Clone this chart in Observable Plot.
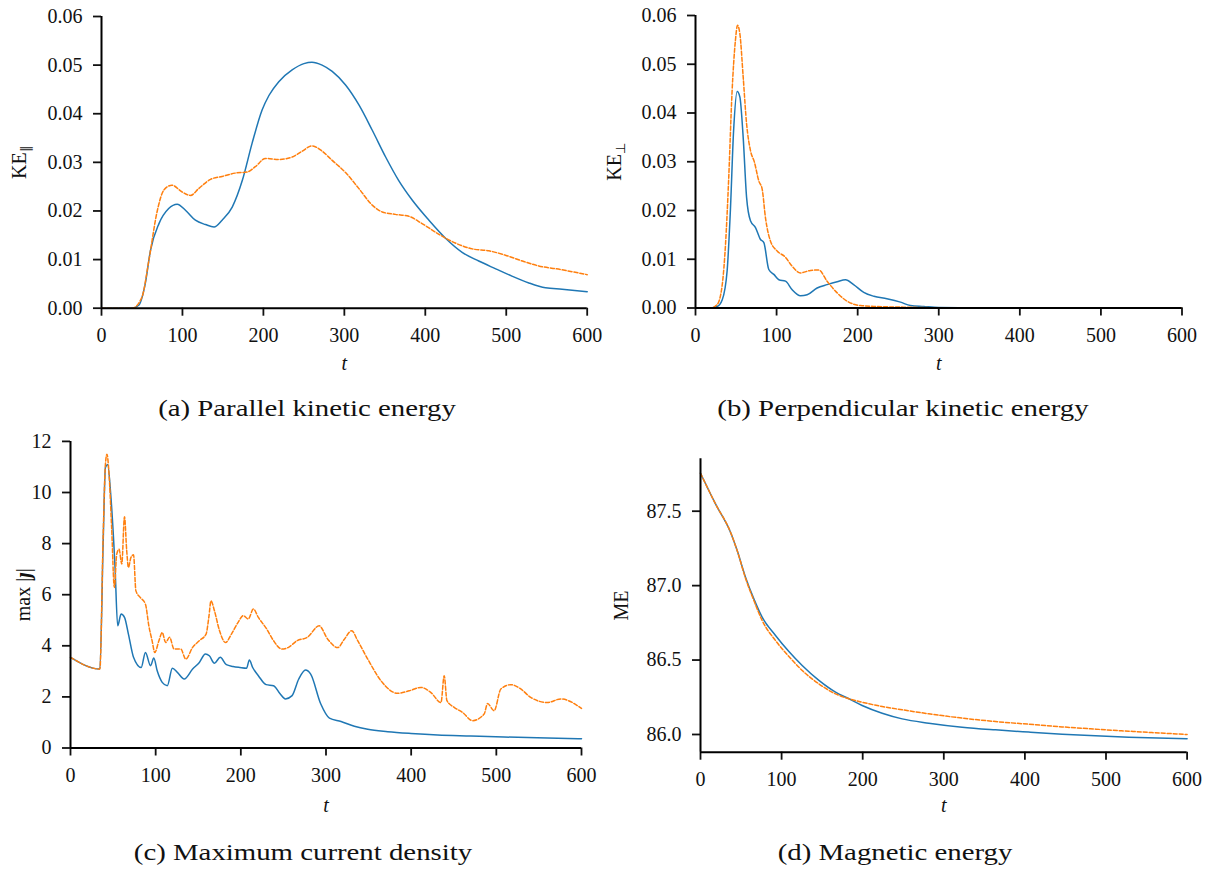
<!DOCTYPE html>
<html>
<head>
<meta charset="utf-8">
<script src="https://cdn.jsdelivr.net/npm/d3@7"></script>
<script src="https://cdn.jsdelivr.net/npm/@observablehq/plot@0.6"></script>
<style>
  html, body { margin: 0; padding: 0; background: white; }
  #page { position: relative; width: 1225px; height: 871px; overflow: hidden; }
  .panel { position: absolute; }
  .panel svg, .panel svg text { font-family: "Liberation Serif", serif !important; }
  .cap { position: absolute; font-family: "Liberation Serif", serif; font-size: 24px; color: #111;
         white-space: nowrap; transform: translate(-50%, -50%) scaleX(1.2); }
</style>
</head>
<body>
<div id="page">
  <div class="panel" id="pa" style="left:0px; top:0px;"></div>
  <div class="panel" id="pb" style="left:600px; top:0px;"></div>
  <div class="panel" id="pc" style="left:0px; top:430px;"></div>
  <div class="panel" id="pd" style="left:600px; top:430px;"></div>
  <div class="cap" style="left:307px; top:408px;">(a) Parallel kinetic energy</div>
  <div class="cap" style="left:903px; top:408px;">(b) Perpendicular kinetic energy</div>
  <div class="cap" style="left:303px; top:852px;">(c) Maximum current density</div>
  <div class="cap" style="left:895px; top:852px;">(d) Magnetic energy</div>
</div>
<script>
// ---------- data: [t, value] ----------
const xTicks = [0, 100, 200, 300, 400, 500, 600];
const keTicks = [0, 0.01, 0.02, 0.03, 0.04, 0.05, 0.06];
const jTicks = [0, 2, 4, 6, 8, 10, 12];
const meTicks = [86.0, 86.5, 87.0, 87.5];

const keParBlue = [[0,0],[38,0],[46,0.0006],[54,0.005],[60.5,0.0119],[71,0.0174],[83,0.0205],[93.5,0.0214],[104,0.0201],[116,0.0181],[128.5,0.0172],[139,0.0167],[149,0.0181],[161.5,0.0208],[174,0.0263],[186,0.0339],[198.5,0.0408],[207,0.0438],[219,0.0466],[235.5,0.049],[250,0.0503],[260,0.0506],[272.5,0.05],[285,0.0487],[301.5,0.0459],[318,0.0418],[334.5,0.0366],[351,0.0311],[367,0.0263],[384,0.0222],[404.5,0.0181],[425,0.0144],[445.5,0.0115],[466,0.0097],[487,0.0081],[507,0.0066],[528,0.0052],[548.5,0.0042],[569,0.0039],[600,0.0034]];
const keParOrange = [[0,0],[38,0],[50,0.0023],[58.5,0.0098],[69,0.0201],[77,0.0243],[87,0.0253],[99.7,0.0239],[110,0.0232],[120,0.0246],[134.7,0.0265],[149,0.0271],[165.6,0.0278],[180,0.028],[190,0.0291],[202.6,0.0308],[219,0.0306],[235.6,0.0311],[248,0.0323],[260,0.0334],[272.6,0.0323],[285,0.0304],[301.5,0.0279],[318,0.0246],[334.5,0.0212],[346.8,0.0198],[363,0.0193],[379.7,0.0189],[396,0.0174],[416.8,0.0152],[437,0.0134],[458,0.0122],[478.6,0.0118],[499,0.0109],[520,0.0097],[540,0.0087],[569,0.0079],[600,0.0069]];

const kePerpBlue = [[0,0],[18.5,0],[26.7,0.0003],[33,0.0017],[39,0.0076],[43,0.0199],[47,0.0364],[51.4,0.0444],[54.7,0.0433],[58.8,0.035],[63,0.0227],[67.8,0.0179],[74,0.0165],[80,0.0141],[84.3,0.0134],[90.4,0.0079],[96.6,0.0069],[102.8,0.0058],[111,0.0055],[119,0.0038],[129.5,0.0025],[137.7,0.0027],[150,0.0041],[162.3,0.0048],[174.7,0.0054],[185,0.0058],[195,0.0048],[207.5,0.0032],[220,0.0024],[236,0.0019],[252.8,0.0012],[265,0.0005],[281.5,0.0003],[300,0.0001],[350,0],[600,0]];
const kePerpOrange = [[0,0],[18.5,0],[26.7,0.0007],[33,0.0048],[37,0.013],[41,0.0268],[45,0.044],[49.3,0.055],[51.8,0.058],[54.7,0.0563],[58.8,0.0474],[63,0.0378],[67.8,0.0323],[72.7,0.0299],[78,0.0261],[82.2,0.0244],[86.3,0.0185],[92.5,0.0137],[100.7,0.0117],[111,0.0104],[119,0.0086],[129.5,0.0072],[141.8,0.0077],[152,0.0078],[162.3,0.0055],[174.7,0.0031],[187,0.0014],[203.5,0.0005],[224,0.0003],[248.7,0.0002],[281,0.0001],[320,0],[600,0]];

const jBlue = [[0,3.55],[34.5,3.09],[38.4,8.1],[41,10.98],[43.6,11.1],[47.5,9.8],[52.3,7.07],[55.4,4.78],[59.4,5.24],[63.4,5.11],[68,4.46],[74,3.55],[83,3.15],[88,3.74],[94,3.22],[97.8,3.52],[101.8,3.02],[107.7,2.57],[113.7,2.44],[119.6,3.12],[125.5,2.96],[133.5,2.7],[143.4,3.09],[151.3,3.35],[158.4,3.68],[163,3.61],[169,3.32],[175.8,3.55],[183,3.26],[190.9,3.19],[198.8,3.15],[206.7,3.12],[210,3.44],[213.9,3.15],[220.6,2.83],[229.7,2.48],[238.4,2.44],[246.3,2.11],[252.3,1.92],[260.2,2.05],[268,2.7],[276,3.05],[282,2.89],[293.9,1.72],[304,1.17],[317.7,1.04],[333.3,0.85],[349,0.73],[372.4,0.64],[399.8,0.57],[431,0.51],[470,0.47],[509,0.43],[548,0.4],[600,0.36]];
const jOrange = [[0,3.55],[34.5,3.09],[38.4,8.37],[41,11.1],[42.8,11.5],[45,10.85],[48.3,8.63],[51.5,6.28],[54.3,7.59],[57,7.78],[60.2,7.2],[63.4,9.05],[66,7.72],[68,7.07],[71,7.46],[74,7.56],[76.8,6.15],[82,5.89],[88,5.63],[92,4.78],[95.8,4.2],[99,3.74],[103.8,4.2],[107.7,4.52],[111.7,4.13],[116.4,4.33],[121.6,3.87],[129.5,3.87],[135.4,3.48],[143.4,3.94],[151.3,4.2],[159.2,4.46],[162.4,5.11],[165,5.76],[169,5.37],[175,4.59],[182,4.13],[189,4.46],[196.8,4.92],[202.8,5.18],[208.7,5.05],[214.7,5.44],[220.6,5.11],[230.5,4.65],[238.4,4.2],[248.3,3.87],[256,3.94],[266,4.2],[278,4.33],[292,4.78],[302,4.26],[313.8,3.93],[321.6,4.26],[330.2,4.59],[337.2,4.2],[349,3.48],[364.6,2.63],[384,2.14],[397.8,2.24],[411.5,2.37],[423.2,2.17],[435,1.78],[438.8,2.83],[442,1.85],[450.5,1.59],[460.4,1.39],[472,1.07],[485.7,1.33],[489.7,1.74],[497.4,1.46],[505.3,2.31],[517,2.48],[528.7,2.31],[540.4,1.98],[560,1.78],[575.6,1.92],[600,1.55]];

const meBlue = [[0,87.755],[18.5,87.549],[37,87.359],[45.2,87.236],[55.5,87.057],[65.8,86.911],[76,86.788],[92.5,86.665],[109,86.557],[125.4,86.463],[146,86.363],[166.5,86.284],[183,86.24],[199.3,86.195],[224,86.143],[248.7,86.105],[281.5,86.076],[322.6,86.049],[363.7,86.031],[404.8,86.016],[446,86.002],[487,85.991],[528,85.982],[600,85.971]];
const meOrange = [[0,87.755],[18.5,87.549],[37,87.359],[45.2,87.236],[55.5,87.05],[65.8,86.9],[76,86.766],[92.5,86.631],[109,86.524],[125.4,86.43],[146,86.34],[166.5,86.273],[183,86.24],[199.3,86.217],[224,86.188],[248.7,86.166],[281.5,86.139],[322.6,86.11],[363.7,86.087],[404.8,86.069],[446,86.051],[487,86.036],[528,86.022],[600,86.0]];

// ---------- drawing ----------
const BLUE = "#1f77b4", ORANGE = "#ff7f0e";
const NS = "http://www.w3.org/2000/svg";

function panel(o) {
  const svg = Plot.plot({
    width: o.width, height: o.height,
    marginLeft: o.ml, marginRight: o.mr, marginTop: o.mt, marginBottom: o.mb,
    style: {fontFamily: "Liberation Serif", fontSize: "20px", background: "transparent", color: "#111", overflow: "visible"},
    x: {domain: [0, 600]},
    y: {domain: o.yDomain},
    marks: [
      Plot.line(o.blue, {x: d => d[0], y: d => d[1], stroke: BLUE, strokeWidth: 1.5, curve: o.curve}),
      Plot.line(o.orange, {x: d => d[0], y: d => d[1], stroke: ORANGE, strokeWidth: 1.5, strokeDasharray: "4,2", curve: o.curve}),
      Plot.axisX({ticks: xTicks, tickFormat: d3.format("d"), tickSize: 8, tickPadding: 12, strokeWidth: 1.8,
                  label: "t", labelAnchor: "center", labelArrow: "none", labelOffset: o.xlo}),
      Plot.axisY({ticks: o.yTicks, tickFormat: o.yFormat, tickSize: 8, tickPadding: 11, strokeWidth: 1.8,
                  label: "Y", labelAnchor: "center", labelArrow: "none", labelOffset: o.ylo}),
      Plot.ruleX([0], {stroke: "black", strokeWidth: 2}),
      Plot.ruleY([o.yDomain[0]], {stroke: "black", strokeWidth: 2})
    ]
  });
  const xl = svg.querySelector('g[aria-label="x-axis label"] text');
  if (xl) { xl.textContent = "t"; xl.setAttribute("font-style", "italic"); }
  const yl = svg.querySelector('g[aria-label="y-axis label"] text');
  if (yl) {
    yl.textContent = "";
    for (const p of o.ylabel) {
      const ts = document.createElementNS(NS, "tspan");
      ts.textContent = p.t;
      if (p.sub) { ts.setAttribute("dy", "0.3em"); ts.setAttribute("font-size", "13px"); ts.setAttribute("style", "font-family: 'DejaVu Sans', sans-serif !important"); }
      if (p.bi) { ts.setAttribute("font-weight", "bold"); ts.setAttribute("font-style", "italic"); }
      yl.appendChild(ts);
    }
  }
  document.getElementById(o.id).appendChild(svg);
}

const f2 = d3.format(".2f"), f1 = d3.format(".1f"), fd = d3.format("d");

panel({id: "pa", width: 600, height: 380, ml: 101, mr: 13.3, mt: 16, mb: 72.3,
  yDomain: [0, 0.06], yTicks: keTicks, yFormat: f2, blue: keParBlue, orange: keParOrange,
  curve: "monotone-x", xlo: 62, ylo: 90, ylabel: [{t: "KE"}, {t: "\u2225", sub: true}]});
panel({id: "pb", width: 625, height: 380, ml: 95, mr: 43.5, mt: 15, mb: 72.5,
  yDomain: [0, 0.06], yTicks: keTicks, yFormat: f2, blue: kePerpBlue, orange: kePerpOrange,
  curve: "monotone-x", xlo: 62, ylo: 89, ylabel: [{t: "KE"}, {t: "\u22A5", sub: true}]});
panel({id: "pc", width: 600, height: 390, ml: 70, mr: 19, mt: 10.9, mb: 72.5,
  yDomain: [0, 12], yTicks: jTicks, yFormat: fd, blue: jBlue, orange: jOrange,
  curve: "monotone-x", xlo: 64, ylo: 55, ylabel: [{t: "max |"}, {t: "\u0237", bi: true}, {t: "|"}]});
panel({id: "pd", width: 625, height: 390, ml: 100, mr: 38.4, mt: 28.3, mb: 68.3,
  yDomain: [85.881, 87.852], yTicks: meTicks, yFormat: f1, blue: meBlue, orange: meOrange,
  curve: "monotone-x", xlo: 60, ylo: 87, ylabel: [{t: "ME"}]});
</script>
</body>
</html>
